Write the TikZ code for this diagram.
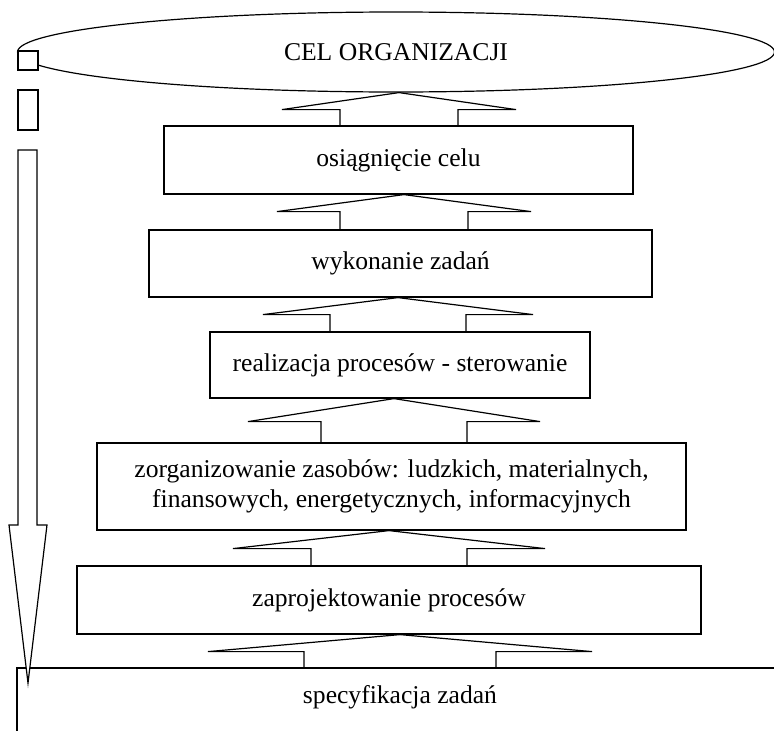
\documentclass[tikz,border=0pt]{standalone}
\usepackage{fontspec}
\setmainfont{Liberation Serif}
\usepackage{tikz}
\usetikzlibrary{shapes.geometric,calc}

% wide up-arrow from the lower box to the upper one:
% lower, upper, tip x, shaft half width, head half width, head depth
\newcommand{\liftarrow}[6]{%
  \draw[blk] let \p1=(#1.north), \p2=(#2.south) in
    (#3pt-#4pt,\y1) -- (#3pt-#4pt,\y2-#6pt) -- (#3pt-#5pt,\y2-#6pt) -- (#3pt,\y2)
    -- (#3pt+#5pt,\y2-#6pt) -- (#3pt+#4pt,\y2-#6pt) -- (#3pt+#4pt,\y1);}

\begin{document}
\begin{tikzpicture}[
 x=1pt,y=-1pt,
 font=\fontsize{25.6pt}{29.5pt}\selectfont,
 line width=1.2pt,
 box/.style={draw,fill=white,inner sep=2pt,align=center},
 goal/.style={ellipse,draw,inner sep=0pt,minimum width=757pt,minimum height=80pt},
 blk/.style={draw,line join=miter}
]
\useasboundingbox (0,0) rectangle (774,731);
\clip (0,0) rectangle (774,731);

\node[goal] (cel) at (396,52) {CEL ORGANIZACJI};

\node[box,minimum width=469pt,minimum height=68pt] (osiag) at (398.5,160) {osiągnięcie celu};
\node[box,minimum width=503pt,minimum height=67pt] (wykon) at (400.5,263.5) {wykonanie zadań};
\node[box,minimum width=380pt,minimum height=66pt] (realiz) at (400,365) {realizacja procesów - sterowanie};
\node[box,minimum width=589pt,minimum height=87pt] (zasoby) at (391.5,486.5)
  {zorganizowanie zasobów: ludzkich, materialnych,\\finansowych, energetycznych, informacyjnych};
\node[box,minimum width=624pt,minimum height=68pt] (projekt) at (389,600) {zaprojektowanie procesów};
% bottom box runs off the page
\node[box,minimum width=766pt,minimum height=90pt,
  label={[yshift=16pt]center:specyfikacja zadań}] (spec) at (400,713) {};

\liftarrow{osiag}{cel}{399}{59}{117}{17}
\liftarrow{wykon}{osiag}{404}{64}{127}{17}
\liftarrow{realiz}{wykon}{398}{68}{135}{17}
\liftarrow{zasoby}{realiz}{394}{73}{146}{23}
\liftarrow{projekt}{zasoby}{389}{78}{156}{18}
\liftarrow{spec}{projekt}{400}{96}{192}{17}

% left: broken downward arrow
\draw[fill=white] (18,51) rectangle (38,70);
\draw[fill=white] (18,90) rectangle (38,130);
\draw[fill=white,line join=miter] (18,150) -- (18,525) -- (9,525) -- (28,683)
  -- (47,525) -- (37,525) -- (37,150) -- cycle;
\end{tikzpicture}
\end{document}
